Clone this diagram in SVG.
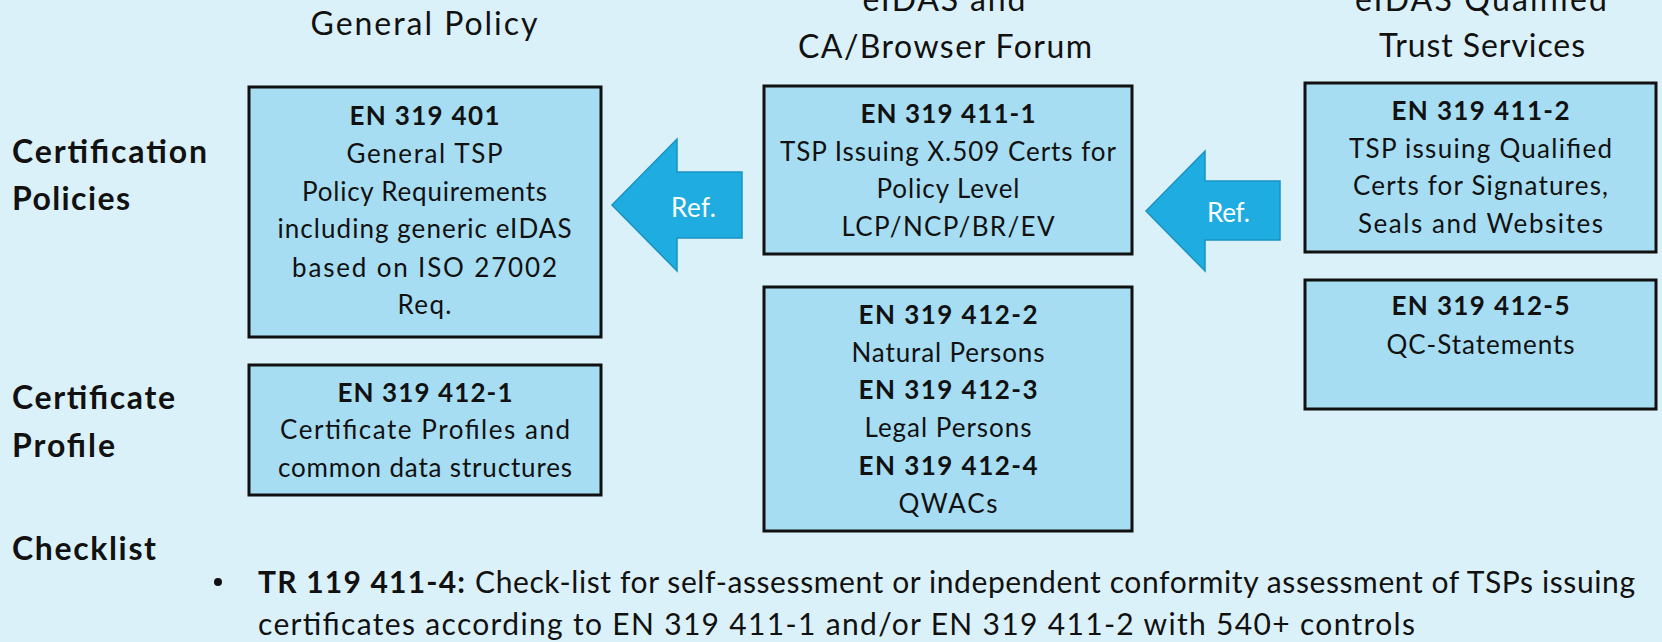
<svg xmlns="http://www.w3.org/2000/svg" width="1662" height="642" viewBox="0 0 1662 642">
<style>
text{font-family:Lato,"Noto Sans","Liberation Sans",sans-serif;fill:#111}
.t{font-size:32px;text-anchor:middle}
.lab{font-size:32px;font-weight:bold}
.b{font-size:26px;text-anchor:middle}
.bb{font-size:26px;font-weight:bold;text-anchor:middle}
.box{fill:#a6ddf3;stroke:#111;stroke-width:3}
.arrow{fill:#1eace1;stroke:#1a93c2;stroke-width:1.5}
.ref{font-size:26px;fill:#fff;text-anchor:middle}
.ck{font-size:30px}
</style>
<rect width="1662" height="642" fill="#dbf1f9"/>
<g id="titles">
<text class="t" x="424" y="35" textLength="227">General Policy</text>
<text class="t" x="944" y="11" textLength="163">eIDAS and</text>
<text class="t" x="945" y="58" textLength="294">CA/Browser Forum</text>
<text class="t" x="1481" y="11" textLength="252">eIDAS Qualified</text>
<text class="t" x="1482" y="57" textLength="206">Trust Services</text>
</g>
<g id="row-labels">
<text class="lab" x="12" y="163" textLength="195">Certification</text>
<text class="lab" x="12" y="210" textLength="118">Policies</text>
<text class="lab" x="12" y="409" textLength="163">Certificate</text>
<text class="lab" x="12" y="457" textLength="103">Profile</text>
<text class="lab" x="12" y="560" textLength="144">Checklist</text>
</g>
<g id="connectors">
<g id="ref1">
<polygon class="arrow" points="612,205 677,139 677,172 742,172 742,238 677,238 677,271"/>
<text class="ref" x="693.5" y="217" textLength="45">Ref.</text>
</g>
<g id="ref2">
<polygon class="arrow" points="1146,211 1205,151 1205,181 1280,181 1280,240 1205,240 1205,271"/>
<text class="ref" x="1228.5" y="222" textLength="43">Ref.</text>
</g>
</g>
<g id="en319401">
<rect class="box" x="249" y="87" width="352" height="250"/>
<text class="bb" x="424.5" y="125" textLength="150">EN 319 401</text>
<text class="b" x="424.5" y="163" textLength="156">General TSP</text>
<text class="b" x="424.5" y="201" textLength="245">Policy Requirements</text>
<text class="b" x="424.5" y="238" textLength="294">including generic eIDAS</text>
<text class="b" x="424.5" y="277" textLength="265">based on ISO 27002</text>
<text class="b" x="424.5" y="314" textLength="54">Req.</text>
</g>
<g id="en3194121">
<rect class="box" x="249" y="365" width="352" height="130"/>
<text class="bb" x="425" y="402" textLength="175">EN 319 412-1</text>
<text class="b" x="425" y="439" textLength="290">Certificate Profiles and</text>
<text class="b" x="425" y="477" textLength="294">common data structures</text>
</g>
<g id="en3194111">
<rect class="box" x="764" y="86" width="368" height="168"/>
<text class="bb" x="948" y="123" textLength="175">EN 319 411-1</text>
<text class="b" x="948" y="161" textLength="336">TSP Issuing X.509 Certs for</text>
<text class="b" x="948" y="198" textLength="143">Policy Level</text>
<text class="b" x="948" y="236" textLength="213">LCP/NCP/BR/EV</text>
</g>
<g id="en319412x">
<rect class="box" x="764" y="287" width="368" height="244"/>
<text class="bb" x="948" y="324" textLength="179">EN 319 412-2</text>
<text class="b" x="948" y="362" textLength="193">Natural Persons</text>
<text class="bb" x="948" y="399" textLength="179">EN 319 412-3</text>
<text class="b" x="948" y="437" textLength="167">Legal Persons</text>
<text class="bb" x="948" y="475" textLength="179">EN 319 412-4</text>
<text class="b" x="948" y="513" textLength="99">QWACs</text>
</g>
<g id="en3194112">
<rect class="box" x="1305" y="83" width="351" height="169"/>
<text class="bb" x="1480.5" y="120" textLength="178">EN 319 411-2</text>
<text class="b" x="1480.5" y="158" textLength="263">TSP issuing Qualified</text>
<text class="b" x="1480.5" y="195" textLength="255">Certs for Signatures,</text>
<text class="b" x="1480.5" y="233" textLength="245">Seals and Websites</text>
</g>
<g id="en3194125">
<rect class="box" x="1305" y="280" width="351" height="129"/>
<text class="bb" x="1480.5" y="315" textLength="178">EN 319 412-5</text>
<text class="b" x="1480.5" y="354" textLength="188">QC-Statements</text>
</g>
<g id="checklist">
<circle cx="218" cy="582" r="4" fill="#111"/>
<text class="ck" y="593"><tspan x="258" font-weight="bold" textLength="207">TR 119 411-4:</tspan><tspan x="475" textLength="1160">Check-list for self-assessment or independent conformity assessment of TSPs issuing</tspan></text>
<text class="ck" x="258" y="635" textLength="1157">certificates according to EN 319 411-1 and/or EN 319 411-2 with 540+ controls</text>
</g>
</svg>
